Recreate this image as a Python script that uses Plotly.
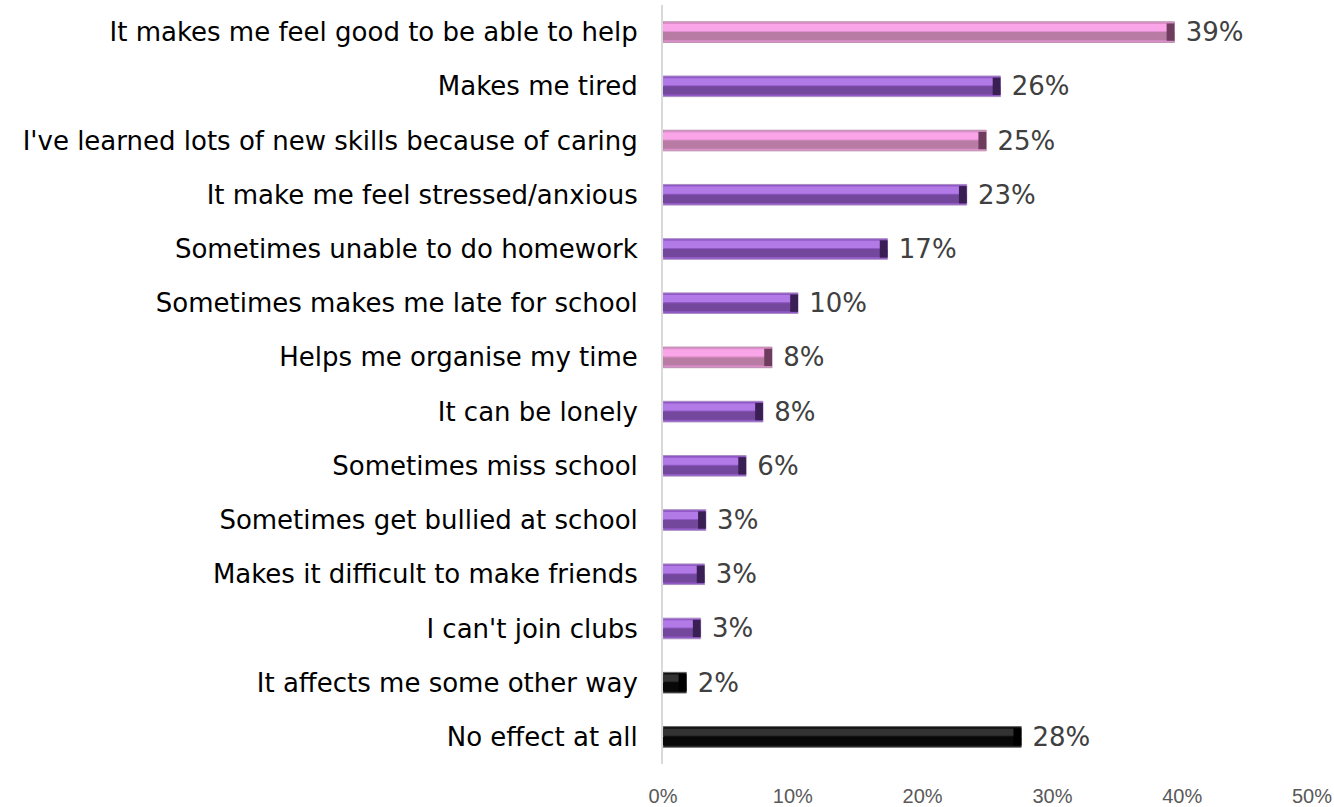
import plotly.graph_objects as go

# Survey responses: how caring affects young carers (share of respondents)
categories = [
    "It makes me feel good to be able to help",
    "Makes me tired",
    "I've learned lots of new skills because of caring",
    "It make me feel stressed/anxious",
    "Sometimes unable to do homework",
    "Sometimes makes me late for school",
    "Helps me organise my time",
    "It can be lonely",
    "Sometimes miss school",
    "Sometimes get bullied at school",
    "Makes it difficult to make friends",
    "I can't join clubs",
    "It affects me some other way",
    "No effect at all",
]
values = [0.394, 0.260, 0.249, 0.234, 0.173, 0.104, 0.084, 0.077, 0.064,
          0.033, 0.032, 0.029, 0.018, 0.276]
groups = ["pos", "neg", "pos", "neg", "neg", "neg", "pos", "neg", "neg",
          "neg", "neg", "neg", "other", "other"]
x_ticks = [0, 0.1, 0.2, 0.3, 0.4, 0.5]

# Shading palette per group: base, upper highlight, lower shadow, end cap
palette = {
    "pos":   {"base": "#DC8FCA", "light": "#F9A5E8", "dark": "#B87BA4", "cap": "#6E3C5C", "line": "#BB8FAD"},
    "neg":   {"base": "#9158C6", "light": "#B27AE6", "dark": "#72479C", "cap": "#3A1F55", "line": "#A88EC2"},
    "other": {"base": "#111111", "light": "#333333", "dark": "#080808", "cap": "#000000", "line": "#666666"},
}

def col(key):
    return [palette[g][key] for g in groups]

BAR_W = 0.38
HALF = BAR_W / 2
CAP = 0.006

fig = go.Figure()

# main bar body with value labels
fig.add_trace(go.Bar(
    x=values, y=categories, orientation="h",
    width=BAR_W, offset=-HALF,
    marker=dict(color=col("base"), line=dict(color=col("line"), width=1)),
    texttemplate=" %{x:.0%}", textposition="outside", cliponaxis=False,
    constraintext="none",
    textfont=dict(family="DejaVu Sans", size=26, color="#404040"),
    hoverinfo="x+y",
))
# upper highlight strip
fig.add_trace(go.Bar(
    x=values, y=categories, orientation="h",
    width=0.13, offset=-HALF + 0.04,
    marker=dict(color=col("light"), line=dict(width=0)),
    hoverinfo="skip",
))
# lower shadow strip
fig.add_trace(go.Bar(
    x=values, y=categories, orientation="h",
    width=0.15, offset=HALF - 0.19,
    marker=dict(color=col("dark"), line=dict(width=0)),
    hoverinfo="skip",
))
# dark bevelled end cap
fig.add_trace(go.Bar(
    x=[CAP] * len(values), base=[v - CAP for v in values],
    y=categories, orientation="h",
    width=BAR_W - 0.06, offset=-HALF + 0.03,
    marker=dict(color=col("cap"), line=dict(width=0)),
    hoverinfo="skip",
))

fig.update_layout(
    width=1334, height=807,
    margin=dict(l=663, r=22, t=5, b=43),
    paper_bgcolor="white", plot_bgcolor="white",
    barmode="overlay", showlegend=False,
    xaxis=dict(
        range=[0, 0.5], tickvals=x_ticks, tickformat=".0%",
        showgrid=False, zeroline=False, showline=False, ticks="",
        tickfont=dict(family="Liberation Sans Narrow, Liberation Sans", size=20, color="#595959"),
        ticklabelstandoff=18, automargin=False,
    ),
    yaxis=dict(
        autorange="reversed", showgrid=False, zeroline=False,
        showline=True, linecolor="#D9D9D9", linewidth=2, ticks="",
        tickfont=dict(family="DejaVu Sans", size=26, color="#000000"),
        ticklabelstandoff=18, automargin=False,
    ),
)

fig.write_html("out.html")
